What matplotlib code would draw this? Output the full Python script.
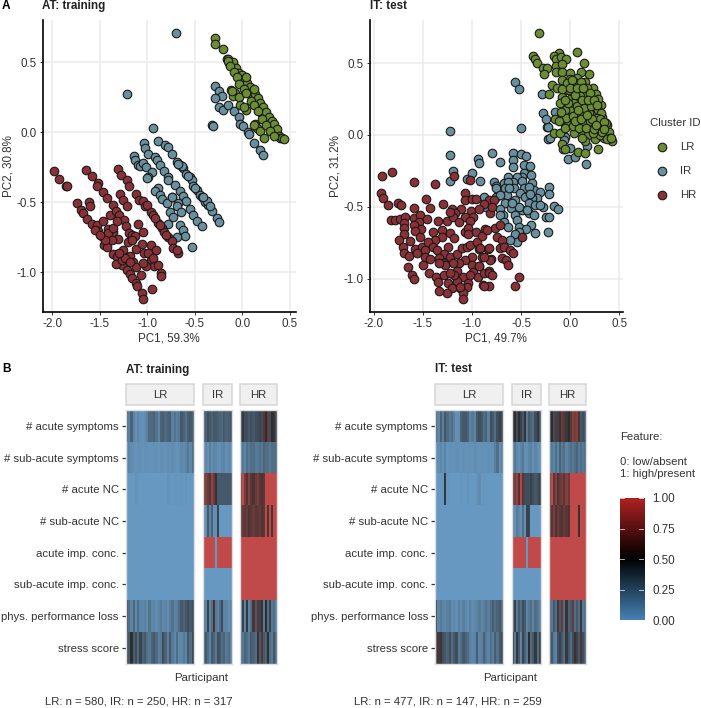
import numpy as np
import matplotlib
matplotlib.use('Agg')
import matplotlib.pyplot as plt
from matplotlib.colors import LinearSegmentedColormap
from matplotlib.patches import Rectangle

plt.rcParams['font.family'] = ['Liberation Sans', 'DejaVu Sans']

# PCA scores: (PC1, PC2)
at_lr = [(-0.29,0.67),(-0.29,0.63),(-0.20,0.59),(-0.165,0.52),(-0.15,0.52),(-0.13,0.50),(-0.14,0.49),(-0.11,0.48),(-0.09,0.47),(-0.08,0.44),
(-0.10,0.50),(-0.06,0.43),(-0.07,0.46),(-0.05,0.40),(-0.03,0.39),(-0.02,0.37),(-0.04,0.42),(0.0,0.36),(0.01,0.35),(0.0,0.41),(0.03,0.33),(0.03,0.37),
(0.04,0.31),(0.05,0.30),(0.05,0.35),(0.07,0.29),(0.08,0.27),(0.08,0.32),(0.10,0.26),(0.11,0.25),(0.11,0.29),(0.13,0.22),(0.14,0.22),(0.13,0.27),
(0.16,0.20),(0.17,0.18),(0.16,0.24),(0.18,0.17),(0.20,0.15),(0.19,0.21),(0.21,0.13),(0.23,0.13),(0.22,0.18),(0.24,0.10),(0.26,0.09),(0.25,0.14),
(0.27,0.07),(0.28,0.06),(0.28,0.11),(0.30,0.05),(0.31,0.03),(0.31,0.08),(0.33,0.02),(0.34,0.0),(0.33,0.06),(0.36,-0.01),(0.37,-0.02),(0.36,0.02),
(0.39,-0.03),(0.40,-0.04),(0.42,-0.04),(0.44,-0.05),(-0.12,0.30),(-0.08,0.28),(-0.095,0.255),(-0.11,0.29),(-0.03,0.25),(-0.025,0.195),(0.035,0.16),
(0.02,0.18),(0.135,0.06),(0.15,0.03),(0.125,0.05),(0.185,0.005),(0.23,-0.045),(-0.155,0.505),(-0.125,0.47),(-0.09,0.43),(-0.06,0.39),(-0.03,0.345),
(0.015,0.31),(0.035,0.28),(0.09,0.22),(0.12,0.19),(0.16,0.15),(0.21,0.09),(0.25,0.05),(0.29,0.01),(0.33,-0.03),(0.04,0.39),(0.12,0.31)]
at_ir = [(-0.285,0.33),(-0.25,0.29),(-0.21,0.26),(-0.285,0.24),(-0.25,0.18),(-0.20,0.155),(-0.15,0.19),(-0.09,0.15),(-0.035,0.11),(-0.02,0.06),
(0.01,0.04),(0.06,0.0),(0.07,-0.015),(0.125,-0.08),(0.19,-0.125),(0.22,-0.165),(-0.32,0.05),(-0.31,0.045),(-0.70,0.71),(-1.21,0.275),(-0.945,0.03),
(-0.884,-0.062),(-0.814,-0.095),(-0.779,-0.103),(-0.744,-0.155),(-0.691,-0.214),(-0.656,-0.233),(-0.621,-0.257),(-0.593,-0.30),(-0.551,-0.322),
(-0.533,-0.341),(-0.516,-0.384),(-0.481,-0.412),(-0.446,-0.448),(-0.421,-0.464),(-0.393,-0.50),(-0.358,-0.519),(-0.316,-0.562),(-0.27,-0.61),(-0.249,-0.645),
(-0.64,-0.245),(-0.675,-0.225),(-0.57,-0.31),(-0.50,-0.40),(-0.375,-0.49),(-0.41,-0.46),(-0.34,-0.53),
(-1.03,-0.079),(-1.025,-0.114),(-0.99,-0.157),(-0.919,-0.181),(-0.902,-0.198),(-0.867,-0.238),(-0.821,-0.281),(-0.786,-0.317),(-0.779,-0.341),
(-0.709,-0.381),(-0.744,-0.46),(-0.656,-0.419),(-0.621,-0.455),(-0.596,-0.49),(-0.551,-0.548),(-0.516,-0.59),(-0.481,-0.633),(-0.424,-0.667),
(-0.674,-0.507),(-0.691,-0.524),(-0.761,-0.567),(-0.646,-0.571),(-0.726,-0.603),(-0.656,-0.662),(-0.621,-0.698),(-0.603,-0.745),(-0.691,-0.75),
(-0.779,-0.657),(-0.526,-0.819),(-1.14,-0.174),(-1.13,-0.198),(-1.095,-0.233),(-1.077,-0.245),(-1.042,-0.222),(-1.017,-0.252),(-0.954,-0.286),
(-0.996,-0.317),(-1.007,-0.329),(-0.891,-0.40),(-0.919,-0.419),(-0.867,-0.448),(-0.849,-0.479),(-0.796,-0.507),(-0.744,-0.464)]
at_hr = [(-1.986,-0.276),(-1.93,-0.334),(-1.86,-0.384),(-1.849,-0.388),(-1.642,-0.272),(-1.579,-0.31),(-1.516,-0.36),(-1.526,-0.388),(-1.312,-0.265),
(-1.277,-0.305),(-1.217,-0.345),(-1.193,-0.384),(-1.284,-0.441),(-1.259,-0.488),(-1.21,-0.531),(-1.119,-0.443),(-1.087,-0.484),(-1.042,-0.495),
(-1.024,-0.531),(-0.961,-0.567),(-0.937,-0.595),(-0.884,-0.646),(-0.842,-0.686),(-0.821,-0.71),(-0.779,-0.75),(-0.744,-0.774),(-0.726,-0.829),
(-1.007,-0.519),(-0.919,-0.615),(-0.866,-0.662),(-0.803,-0.734),(-0.68,-0.864),(-0.69,-0.84),(-1.737,-0.507),(-1.702,-0.555),(-1.673,-0.579),
(-1.638,-0.622),(-1.586,-0.655),(-1.533,-0.664),(-1.516,-0.705),(-1.47,-0.75),(-1.452,-0.805),(-1.428,-0.822),(-1.358,-0.869),(-1.323,-0.893),
(-1.263,-0.948),(-1.217,-0.984),(-1.182,-1.012),(-1.158,-1.043),(-1.123,-1.079),(-1.112,-1.098),(-1.059,-1.146),(-1.049,-1.191),(-0.954,-1.119),
(-1.614,-0.50),(-1.603,-0.526),(-1.463,-0.429),(-1.428,-0.467),(-1.393,-0.591),(-1.358,-0.519),(-1.333,-0.56),(-1.298,-0.595),(-1.245,-0.627),
(-1.228,-0.669),(-1.463,-0.638),(-1.41,-0.693),(-1.361,-0.71),(-1.305,-0.765),(-1.252,-0.841),(-1.182,-0.881),(-1.147,-0.924),(-1.123,-0.965),
(-1.063,-1.017),(-1.333,-0.941),(-1.27,-0.912),(-1.193,-0.722),(-1.158,-0.734),(-1.13,-0.741),(-1.102,-0.655),(-1.042,-0.71),(-1.2,-0.781),
(-1.123,-0.836),(-1.059,-0.798),(-1.035,-0.86),(-0.961,-0.805),(-0.908,-0.845),(-0.961,-0.912),(-0.926,-0.955),(-0.891,-0.948),(-0.859,-1.003),
(-0.856,-1.026),(-1.017,-0.953),(-1.042,-0.936),(-1.235,-0.90),(-1.182,-0.924),(-1.417,-0.722),(-1.375,-0.769),(-1.445,-0.769),(-1.298,-0.865),
(-1.551,-0.698),(-1.498,-0.734),(-1.158,-0.769),(-0.989,-0.865),(-0.937,-0.90),(-1.358,-0.686),(-1.323,-0.638)]

it_lr = [(-0.316,0.71),(-0.383,0.546),(-0.363,0.527),(-0.333,0.504),(-0.119,0.569),(0.074,0.58),(0.142,0.504),(-0.17,0.546),(-0.143,0.527),(-0.092,0.539),
(-0.044,0.527),(-0.272,0.469),(-0.238,0.469),(-0.265,0.422),(-0.143,0.483),(-0.085,0.492),(-0.146,0.436),(-0.085,0.441),(0.0,0.429),(0.193,0.427),
(0.112,0.436),(-0.085,0.383),(-0.007,0.388),(-0.187,0.348),(-0.217,0.286),(0.067,0.395),(0.152,0.367),(-0.136,0.325),(-0.051,0.313),(0.034,0.325),
(0.084,0.302),(0.23,0.325),(0.264,0.286),(-0.085,0.267),(0.0,0.251),(0.067,0.251),(0.135,0.244),(0.203,0.237),(-0.068,0.209),(0.017,0.174),
(0.101,0.209),(0.169,0.197),(0.254,0.186),(0.315,0.209),(-0.051,0.174),(0.067,0.144),(0.142,0.158),(0.213,0.151),(0.322,0.128),(0.0,0.111),
(0.084,0.093),(0.169,0.105),(0.244,0.081),(0.373,0.07),(0.051,0.058),(0.118,0.035),(0.203,0.046),(0.281,0.035),(0.356,0.028),(-0.17,0.016),
(-0.102,0.016),(0.034,0.012),(0.186,0.0),(0.271,-0.012),(0.339,-0.023),(0.424,-0.039),(0.407,-0.012),(-0.153,0.109),(-0.085,-0.063),(-0.051,-0.097),
(0.084,-0.116),(0.152,-0.128),(0.285,-0.1),(0.152,-0.042),(0.254,-0.028),(0.118,-0.023),(0.39,0.023),(0.305,0.07),(0.118,0.151),(0.237,0.139),
(-0.017,0.313),(0.152,0.29),(0.035,0.22),(0.10,0.27),(0.28,0.25),(-0.02,0.07),(0.13,0.09),(0.30,0.0),(0.23,0.01),(0.06,0.36),(-0.04,0.12),(0.19,0.15),(0.33,0.06),
(-0.03,0.36),(0.02,0.38),(0.11,0.37),(0.17,0.33),(0.20,0.29),(0.05,0.28),(-0.10,0.22),(-0.02,0.22),(0.07,0.20),(0.14,0.19),(0.21,0.20),(0.28,0.17),
(0.31,0.15),(0.27,0.12),(0.20,0.10),(0.10,0.14),(0.03,0.13),(-0.09,0.16),(-0.11,0.10),(-0.05,0.05),(0.03,0.06),(0.09,0.05),(0.16,0.05),(0.24,0.04),
(0.32,0.02),(0.36,0.08),(0.40,-0.02),(0.30,0.11),(0.34,0.09),(0.22,0.11),(0.12,0.24),(0.18,0.24),(0.24,0.24),(0.27,0.21),(0.05,0.10),(0.11,0.11),
(0.08,0.17),(0.17,0.14),(0.37,-0.03),(0.42,-0.02),(0.34,0.04),(0.26,0.07),(-0.05,0.24),(-0.08,0.32),(0.0,0.33),(0.07,0.33),(0.13,0.33)]
it_ir = [(-0.502,0.047),(-0.238,0.058),(-0.221,-0.028),(-0.061,-0.007),(-0.289,0.288),(-0.272,0.151),(-0.153,0.158),(-0.231,0.058),(-0.204,-0.023),
(-0.248,0.111),(-0.058,0.074),(-0.058,-0.012),(0.0,-0.088),(-0.078,-0.097),(-0.024,-0.169),(0.051,-0.155),(0.162,-0.204),(0.169,-0.074),(-0.068,-0.035),
(-0.56,0.367),(-0.519,0.318),(-1.221,0.03),(-1.225,-0.139),(-1.197,-0.251),(-1.221,-0.32),(-1.052,-0.309),(-1.0,-0.262),(-0.94,-0.167),(-0.933,-0.197),
(-0.916,-0.32),(-0.797,-0.123),(-0.712,-0.19),(-0.58,-0.123),(-0.499,-0.132),(-0.451,-0.146),(-0.587,-0.174),(-0.577,-0.22),(-0.468,-0.209),(-0.414,-0.216),
(-0.475,-0.262),(-0.401,-0.278),(-0.492,-0.29),(-0.543,-0.29),(-0.628,-0.29),(-0.672,-0.337),(-0.78,-0.325),(-0.757,-0.353),(-0.753,-0.371),(-0.492,-0.32),
(-0.577,-0.325),(-0.635,-0.325),(-0.662,-0.371),(-0.57,-0.371),(-0.475,-0.371),(-0.39,-0.337),(-0.373,-0.383),(-0.306,-0.395),(-0.211,-0.364),(-0.211,-0.411),
(-0.424,-0.36),(-0.509,-0.406),(-0.645,-0.418),(-0.458,-0.429),(-0.333,-0.441),(-0.39,-0.441),(-0.56,-0.453),(-0.662,-0.476),(-0.424,-0.476),(-0.356,-0.487),
(-0.492,-0.522),(-0.272,-0.499),(-0.604,-0.511),(-0.163,-0.494),(-0.126,-0.518),(-0.424,-0.541),(-0.367,-0.557),(-0.245,-0.569),(-0.211,-0.573),(-0.712,-0.518),
(-0.679,-0.557),(-0.712,-0.557),(-0.56,-0.557),(-0.543,-0.592),(-0.672,-0.603),(-0.628,-0.638),(-0.526,-0.638),(-0.397,-0.627),(-0.448,-0.655),(-0.356,-0.68),
(-0.221,-0.673),(-0.526,-0.673),(-0.56,-0.689),(-0.543,-0.743),(-0.611,-0.731),(-0.753,-0.434),(-0.882,-0.434),(-0.858,-0.504),(-0.441,-0.522),(-0.618,-0.371),
(-0.312,-0.487),(-0.516,-0.499),(-0.407,-0.411),(-0.712,-0.418),(-0.594,-0.476)]
it_hr = [(-1.91,-0.283),(-1.818,-0.258),(-1.587,-0.33),(-1.377,-0.341),(-1.926,-0.406),(-1.906,-0.436),(-1.852,-0.49),(-1.747,-0.473),(-1.72,-0.487),
(-1.591,-0.51),(-1.472,-0.446),(-1.425,-0.506),(-1.296,-0.48),(-1.204,-0.517),(-1.109,-0.513),(-1.17,-0.545),(-1.008,-0.527),(-1.825,-0.594),(-1.781,-0.594),
(-1.73,-0.587),(-1.676,-0.573),(-1.686,-0.615),(-1.686,-0.65),(-1.696,-0.689),(-1.737,-0.733),(-1.635,-0.738),(-1.706,-0.78),(-1.686,-0.819),(-1.645,-0.842),
(-1.655,-0.917),(-1.614,-0.972),(-1.591,-1.005),(-1.587,-0.58),(-1.533,-0.557),(-1.536,-0.608),(-1.594,-0.627),(-1.513,-0.657),(-1.581,-0.668),(-1.459,-0.585),
(-1.35,-0.596),(-1.255,-0.599),(-1.194,-0.569),(-1.221,-0.534),(-1.075,-0.569),(-0.991,-0.569),(-1.136,-0.606),(-1.018,-0.599),(-1.526,-0.712),(-1.584,-0.796),
(-1.503,-0.782),(-1.56,-0.824),(-1.475,-0.801),(-1.482,-0.852),(-1.425,-0.866),(-1.496,-0.907),(-1.391,-0.673),(-1.306,-0.661),(-1.221,-0.68),(-1.306,-0.712),
(-1.374,-0.731),(-1.442,-0.743),(-1.18,-0.719),(-1.245,-0.777),(-1.391,-0.782),(-1.357,-0.801),(-1.289,-0.831),(-1.34,-0.859),(-1.289,-0.894),(-1.221,-0.847),
(-1.153,-0.828),(-1.102,-0.789),(-1.052,-0.782),(-1.018,-0.766),(-0.95,-0.743),(-1.069,-0.673),(-1.035,-0.65),(-0.957,-0.673),(-0.865,-0.657),(-1.035,-0.689),
(-0.899,-0.703),(-0.923,-0.796),(-0.841,-0.791),(-0.899,-0.847),(-0.807,-0.866),(-1.001,-0.847),(-1.069,-0.87),(-1.136,-0.894),(-1.194,-0.894),(-1.272,-0.905),
(-1.34,-0.894),(-1.001,-0.905),(-0.923,-0.912),(-1.147,-0.945),(-1.092,-0.991),(-0.994,-0.952),(-0.943,-0.991),(-0.882,-0.963),(-0.831,-0.947),(-1.435,-0.961),
(-1.364,-0.991),(-1.282,-0.977),(-1.35,-1.023),(-1.248,-1.028),(-1.147,-1.014),(-1.038,-1.028),(-1.052,-1.061),(-1.126,-1.068),(-1.204,-1.068),(-1.255,-1.102),
(-1.33,-1.086),(-1.092,-1.102),(-1.086,-1.142),(-0.889,-1.044),(-1.119,-1.056),(-1.187,-0.975),(-1.018,-0.975),(-1.221,-0.963),(-1.075,-0.406),(-1.068,-0.452),
(-1.0,-0.448),(-0.957,-0.448),(-0.831,-0.452),(-0.78,-0.452),(-0.882,-0.48),(-0.923,-0.517),(-0.821,-0.545),(-0.794,-0.499),(-0.763,-0.65),(-0.712,-0.626),
(-0.848,-0.661),(-0.746,-0.708),(-0.695,-0.731),(-0.492,-0.712),(-0.712,-0.789),(-0.678,-0.777),(-0.611,-0.80),(-0.577,-0.824),(-0.695,-0.858),(-0.651,-0.87),
(-0.638,-0.905),(-0.516,-0.986),(-0.566,-1.049),(-0.814,-0.87),(-0.824,-0.963),(-0.797,-0.974),(-0.831,-1.049),(-0.882,-1.049),(-0.933,-0.916),(-0.882,-0.847),
(-0.916,-0.789),(-0.831,-0.789),(-1.184,-0.283),(-1.018,-0.313)]

features = ['# acute symptoms', '# sub-acute symptoms', '# acute NC', '# sub-acute NC',
            'acute imp. conc.', 'sub-acute imp. conc.', 'phys. performance loss', 'stress score']

# Feature value per participant band, one list per feature row
at_heat_lr = [
    [.25,.12,.25,.1,.05,.08,.05,.03,.06,.12,.22,.22,.25,.18,.1,.25,.28,.22,.25,.28,.12,.18,.12,.15,.3,.25,.18,.28,.3,.25],
    [.06,.1,.06,.04,.03,.05,.04,.03,.05,.04,.03,.03,.05,.04,.03,.05,.04,.03,.05,.04,.06,.04,.03,.05,.08,.06,.1,.15,.08,.2],
    [0,0,0,0,.03,.02,0,0,0,0,0,0,0,0,0,0,0,0,.03,.02,0,.02,.02,0,.02,0,.03,0,0,0],
    [0], [0], [0],
    [.4,.2,.1,.22,.08,.2,.1,.08,.12,.06,.18,.08,.1,.06,.1,.14,.08,.1,.06,.12,.18,.1,.12,.2,.3,.25,.3,.35,.3,.35],
    [.35,.3,.5,.28,.35,.22,.4,.25,.3,.2,.15,.25,.3,.22,.12,.15,.35,.25,.12,.3,.15,.08,.2,.08,.08,.15,.1,.3,.2,.38]]
at_heat_ir = [
    [.3,.25,.35,.3,.25,.3,.3,.28,.25,.22,.3,.25,.28,.3],
    [.05,.08,.05,.12,.05,.1,.08,.05,.05,.08,.1,.05,.08,.05],
    [.65,.8,.7,.62,.85,.7,.55,.3,.3,.3,.3,.3,.3,.3],
    [.05,.05,.3,.1,.25,.05,.05,.4,0,0,0,0,0,0],
    [1,1,1,1,1,1,0,1,1,1,1,1,1,1],
    [0],
    [.2,.1,.4,.1,.2,.6,.15,.1,.2,.35,.1,.1,.05,.1],
    [.25,.3,.2,.1,.3,.25,.15,.35,.3,.2,.25,.15,.2,.1]]
at_heat_hr = [
    [.35,.45,.35,.35,.3,.35,.3,.35,.35,.4,.35,.65,.5,.7,.35,.5,.55,.35],
    [.1,.15,.1,.2,.15,.2,.2,.15,.15,.2,.15,.25,.2,.2,.15,.2,.2,.2],
    [.7,1,.75,.6,.8,.65,.6,.7,.75,.65,.6,.65,1,1,1,1,1,1],
    [.65,.7,.65,.7,.6,.65,.7,.65,.65,.7,.6,.65,1,.6,1,.6,1,1],
    [1], [1],
    [.1,.4,.1,.45,.1,.2,.6,.3,.65,.4,.55,.15,.5,.2,.4,.15,.2,.1],
    [.2,.15,.25,.2,.15,.3,.25,.2,.55,.3,.65,.3,.25,.5,.2,.15,.3,.2]]
it_heat_lr = [
    [.3,.1,.25,.12,.3,.22,.15,.2,.12,.05,.05,.25,.3,.3,.25,.1,.15,.1,.3,.35,.3,.2,.25,.12,.35,.3,.2,.35,.4,.35],
    [.08,.05,.08,.04,.1,.03,.05,.04,.03,.05,.04,.03,.05,.03,.04,.05,.03,.06,.04,.03,.05,.04,.03,.05,.04,.05,.12,.2,.05,.12],
    [0,0,0,.02,.45,.02,0,0,0,0,0,.02,0,0,.03,0,0,0,.03,.06,0,.02,0,0,0,0,0,0,0,0],
    [0], [0], [0],
    [.45,.1,.15,.1,.08,.12,.15,.06,.08,.05,.12,.06,.12,.08,.05,.12,.06,.08,.1,.15,.08,.12,.18,.12,.2,.28,.2,.25,.3,.2],
    [.3,.6,.45,.35,.3,.25,.35,.2,.3,.35,.15,.2,.3,.25,.2,.12,.08,.1,.28,.1,.12,.25,.15,.1,.2,.12,.28,.18,.3,.35]]
it_heat_ir = [
    [.45,.5,.35,.5,.4,.3,.55,.15,.3,.25,.2,.35,.45,.3],
    [.1,.15,.08,.05,.1,.15,.05,.05,.1,.12,.05,.1,.05,.05],
    [.7,.75,.85,.6,.95,.65,.35,.35,.35,.4,.35,.3,.35,.4],
    [.1,.05,.15,.1,.05,.2,.05,.4,.4,0,0,0,0,0],
    [1,1,1,1,1,1,1,0,1,1,1,1,1,1],
    [0],
    [.25,.4,.15,.3,.2,.35,.3,.1,.15,.2,.1,.2,.15,.1],
    [.5,.15,.45,.3,.1,.4,.25,.15,.5,.2,.3,.45,.2,.4]]
it_heat_hr = [
    [.4,.5,.35,.65,.4,.55,.7,.65,.45,.5,.65,.8,.75,.8,.6,.3,.35,.3],
    [.1,.15,.1,.2,.1,.25,.15,.2,.1,.15,.2,.15,.2,.25,.15,.2,.15,.2],
    [.7,1,.65,.8,.6,.7,.75,.65,.8,.7,1,1,1,1,1,1,1,1],
    [.7,.65,.75,.6,.7,.65,.6,.7,.65,.6,1,1,1,1,.55,1,1,1],
    [1], [1],
    [.25,.15,.3,.2,.6,.3,.7,.2,.55,.25,.3,.7,.2,.3,.2,.45,.15,.2],
    [.2,.3,.15,.1,.35,.4,.3,.2,.45,.3,.2,.35,.55,.4,.3,.6,.35,.25]]

cluster_names = ['LR', 'IR', 'HR']
cluster_colors = {'LR': '#6b8e32', 'IR': '#69909f', 'HR': '#8b3036'}
xticks = [-2.0, -1.5, -1.0, -0.5, 0.0, 0.5]
yticks = [-1.0, -0.5, 0.0, 0.5]
cbar_ticks = [0.0, 0.25, 0.5, 0.75, 1.0]

W, H = 701, 708
TEXT = '#333333'
FS = 8.2
DOT = 38
fig = plt.figure(figsize=(W / 100, H / 100), dpi=100)
cmap = LinearSegmentedColormap.from_list('risk', ['#4682b4', '#000000', '#b22222'])


def px_axes(x0, y0, x1, y1):
    # axes from pixel box, y counted from the top
    return fig.add_axes([x0 / W, 1 - y1 / H, (x1 - x0) / W, (y1 - y0) / H])


def put(x, y, s, **kw):
    kw.setdefault('color', 'black')
    kw.setdefault('fontsize', FS)
    kw.setdefault('va', 'center')
    fig.text(x / W, 1 - y / H, s, **kw)


def pca_panel(box, xlim, ylim, groups, xlabel, ylabel):
    ax = px_axes(*box)
    ax.set_xlim(*xlim)
    ax.set_ylim(*ylim)
    ax.grid(True, color='#ebebeb', lw=1.1)
    ax.set_axisbelow(True)
    for name in ['IR', 'HR', 'LR']:
        pts = np.array(groups[name])
        ax.scatter(pts[:, 0], pts[:, 1], s=DOT, color=cluster_colors[name],
                   edgecolor='#1a1a1a', linewidth=0.8, zorder=3, clip_on=False)
    ax.set_xticks(xticks)
    ax.set_yticks(yticks)
    ax.set_xticklabels(['%.1f' % t for t in xticks])
    ax.set_yticklabels(['%.1f' % t for t in yticks])
    ax.tick_params(labelsize=FS + 0.2, labelcolor=TEXT, length=2, width=0.7, color='#333333', pad=2)
    for s in ['top', 'right']:
        ax.spines[s].set_visible(False)
    for s in ['left', 'bottom']:
        ax.spines[s].set_linewidth(1.2)
    ax.set_xlabel(xlabel, fontsize=FS + 0.2, color=TEXT, labelpad=2)
    ax.set_ylabel(ylabel, fontsize=FS + 0.2, color=TEXT, labelpad=2)
    return ax


def heat_facet(x0, x1, rows, name, show_labels):
    ax = px_axes(x0, 410, x1, 663.5)
    n_rows = len(rows)
    for i, row in enumerate(rows):
        edges = np.linspace(0, 1, len(row) + 1)
        ax.pcolormesh(edges, [n_rows - i - 1, n_rows - i], np.array([row], dtype=float),
                      cmap=cmap, vmin=0, vmax=1, alpha=0.82, linewidth=0, rasterized=True)
    ax.set_xlim(0, 1)
    ax.set_ylim(0, n_rows)
    ax.set_xticks([])
    for s in ax.spines.values():
        s.set_color('#dddddd')
        s.set_linewidth(1.0)
    if show_labels:
        ax.set_yticks(np.arange(n_rows) + 0.5)
        ax.set_yticklabels(features[::-1])
        ax.tick_params(axis='y', labelsize=FS, labelcolor=TEXT, length=3, width=0.9, color='#333333', pad=2)
    else:
        ax.set_yticks([])
    # facet strip
    fig.add_artist(Rectangle((x0 / W, 1 - 405.5 / H), (x1 - x0) / W, 21.5 / H, transform=fig.transFigure,
                             facecolor='#f0f0f0', edgecolor='#d6d6d6', linewidth=1.1))
    put((x0 + x1) / 2, 395, name, ha='center', color=TEXT)


pca_panel((42.5, 20, 296, 312), (-2.103, 0.565), (-1.284, 0.80),
          {'LR': at_lr, 'IR': at_ir, 'HR': at_hr}, 'PC1, 59.3%', 'PC2, 30.8%')
pca_panel((369.5, 20, 622.5, 312), (-2.042, 0.532), (-1.233, 0.80),
          {'LR': it_lr, 'IR': it_ir, 'HR': it_hr}, 'PC1, 49.7%', 'PC2, 31.2%')

at_facets = [(125.7, 194, at_heat_lr), (202.7, 231.7, at_heat_ir), (240, 277.3, at_heat_hr)]
it_facets = [(435, 503.3, it_heat_lr), (511.7, 540.7, it_heat_ir), (549, 586, it_heat_hr)]
for facets in [at_facets, it_facets]:
    for k, (x0, x1, rows) in enumerate(facets):
        heat_facet(x0, x1, rows, cluster_names[k], k == 0)

# panel letters and titles
put(2, 6, 'A', fontweight='bold', fontsize=8.6)
put(2, 369, 'B', fontweight='bold', fontsize=8.6)
put(42.5, 6, 'AT: training', fontweight='bold', fontsize=8.4, color='#222222')
put(369.5, 6, 'IT: test', fontweight='bold', fontsize=8.4, color='#222222')
put(125.7, 369.5, 'AT: training', fontweight='bold', fontsize=8.4, color='#222222')
put(435, 369.5, 'IT: test', fontweight='bold', fontsize=8.4, color='#222222')
put(201.5, 678, 'Participant', ha='center', color=TEXT)
put(510.5, 678, 'Participant', ha='center', color=TEXT)
put(45, 702, 'LR: n = 580, IR: n = 250, HR: n = 317', color=TEXT)
put(354, 702, 'LR: n = 477, IR: n = 147, HR: n = 259', color=TEXT)

# cluster legend
put(650, 123, 'Cluster ID', color=TEXT)
leg = px_axes(650, 135, 701, 207)
leg.set_xlim(650, 701)
leg.set_ylim(207, 135)
leg.axis('off')
for name, yy in zip(cluster_names, [147, 171, 195]):
    leg.scatter([662], [yy], s=DOT, color=cluster_colors[name], edgecolor='#1a1a1a', linewidth=0.8)
    put(680, yy, name, color=TEXT)

# feature colour bar
put(620, 437.5, 'Feature:', color=TEXT)
put(620, 462, '0: low/absent', color=TEXT)
put(620, 474, '1: high/present', color=TEXT)
cax = px_axes(619.5, 498, 644, 620.5)
cax.imshow(np.linspace(1, 0, 256)[:, None], aspect='auto', cmap=cmap, vmin=0, vmax=1, extent=[0, 1, 0, 1])
cax.set_xticks([])
cax.set_yticks(cbar_ticks)
cax.set_yticklabels(['%.2f' % t for t in cbar_ticks])
cax.yaxis.tick_right()
cax.tick_params(axis='y', length=0, labelsize=FS + 0.2, labelcolor=TEXT, pad=6)
for s in cax.spines.values():
    s.set_visible(False)
for t in cbar_ticks:
    cax.plot([0, 0.2], [t, t], color='white', lw=0.5)
    cax.plot([0.8, 1], [t, t], color='white', lw=0.5)
cax.set_xlim(0, 1)
cax.set_ylim(0, 1)

fig.savefig('out.png', dpi=100)
